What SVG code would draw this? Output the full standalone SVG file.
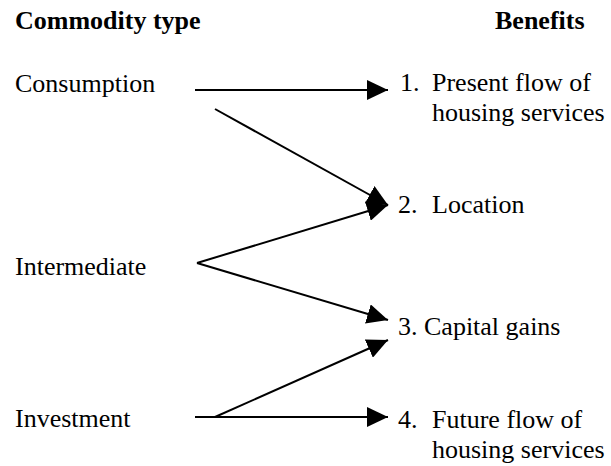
<svg xmlns="http://www.w3.org/2000/svg" width="611" height="466" viewBox="0 0 611 466">
<style>
text { font-family: 'Liberation Serif', 'DejaVu Serif', 'Times New Roman', Times, serif; font-size: 26px; fill: #000; }
.h { font-weight: bold; }
.c { stroke: #000; stroke-width: 2; fill: none; }
</style>
<defs>
<marker id="ah" viewBox="0 0 21 20" refX="21" refY="10" markerWidth="21" markerHeight="20" markerUnits="userSpaceOnUse" orient="auto">
<path d="M0,0 L21,10 L0,20 Z" fill="#000"/>
</marker>
</defs>
<rect width="611" height="466" fill="#fff"/>
<g id="headers" font-family="Liberation Serif, DejaVu Serif, serif">
<text class="h" x="15" y="29">Commodity type</text>
<text class="h" x="495" y="29">Benefits</text>
</g>
<g id="consumption" font-family="Liberation Serif, DejaVu Serif, serif"><text x="15" y="92">Consumption</text></g>
<g id="intermediate" font-family="Liberation Serif, DejaVu Serif, serif"><text x="15" y="275">Intermediate</text></g>
<g id="investment" font-family="Liberation Serif, DejaVu Serif, serif"><text x="15" y="427">Investment</text></g>
<g id="benefit1" font-family="Liberation Serif, DejaVu Serif, serif">
<text x="400" y="91">1.</text>
<text x="432" y="91">Present flow of</text>
<text x="432" y="121">housing services</text>
</g>
<g id="benefit2" font-family="Liberation Serif, DejaVu Serif, serif">
<text x="398" y="213">2.</text>
<text x="432" y="213">Location</text>
</g>
<g id="benefit3" font-family="Liberation Serif, DejaVu Serif, serif">
<text x="398" y="335">3. Capital gains</text>
</g>
<g id="benefit4" font-family="Liberation Serif, DejaVu Serif, serif">
<text x="398" y="428">4.</text>
<text x="432" y="428">Future flow of</text>
<text x="432" y="458">housing services</text>
</g>
<g id="connectors">
<line class="c" x1="195" y1="90" x2="388" y2="90" marker-end="url(#ah)"/>
<line class="c" x1="215" y1="109" x2="388" y2="205" marker-end="url(#ah)"/>
<line class="c" x1="197" y1="263" x2="388" y2="205" marker-end="url(#ah)"/>
<line class="c" x1="197" y1="263" x2="388" y2="320" marker-end="url(#ah)"/>
<line class="c" x1="215" y1="417" x2="388" y2="340" marker-end="url(#ah)"/>
<line class="c" x1="195" y1="417" x2="388" y2="417" marker-end="url(#ah)"/>
</g>
</svg>
